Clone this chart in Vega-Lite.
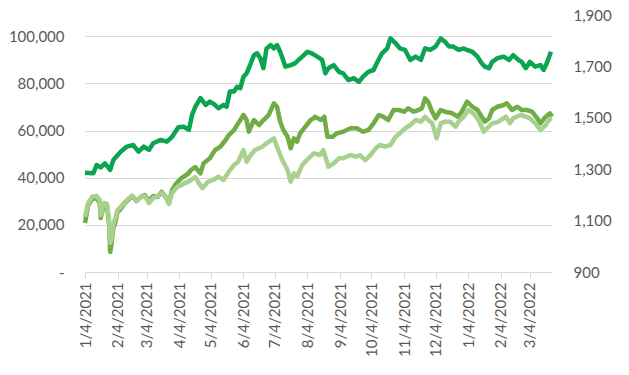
{
  "$schema": "https://vega.github.io/schema/vega-lite/v6.json",
  "width": 467,
  "height": 257,
  "autosize": "none",
  "padding": {"left": 85, "top": 15, "right": 77, "bottom": 103},
  "background": "white",
  "config": {
    "view": {"stroke": null},
    "font": "Lato",
    "axis": {"labelColor": "#595959", "labelFontSize": 15, "labelFont": "Lato", "title": null}
  },
  "datasets": {
    "left": [
      {"date":"2021-01-04","s":"medium","v":20781},{"date":"2021-01-07","s":"medium","v":28415},{"date":"2021-01-11","s":"medium","v":30959},{"date":"2021-01-15","s":"medium","v":31383},{"date":"2021-01-18","s":"medium","v":29263},{"date":"2021-01-19","s":"medium","v":22901},{"date":"2021-01-22","s":"medium","v":28415},{"date":"2021-01-25","s":"medium","v":27991},{"date":"2021-01-27","s":"medium","v":19933},{"date":"2021-01-28","s":"medium","v":8482},{"date":"2021-01-29","s":"medium","v":11027},{"date":"2021-01-31","s":"medium","v":18660},{"date":"2021-02-02","s":"medium","v":21205},{"date":"2021-02-04","s":"medium","v":25446},{"date":"2021-02-07","s":"medium","v":26718},{"date":"2021-02-11","s":"medium","v":29263},{"date":"2021-02-15","s":"medium","v":30959},{"date":"2021-02-18","s":"medium","v":32232},{"date":"2021-02-22","s":"medium","v":30111},{"date":"2021-02-26","s":"medium","v":31808},{"date":"2021-03-02","s":"medium","v":32656},{"date":"2021-03-06","s":"medium","v":30111},{"date":"2021-03-10","s":"medium","v":32232},{"date":"2021-03-14","s":"medium","v":31808},{"date":"2021-03-18","s":"medium","v":33928},{"date":"2021-03-22","s":"medium","v":31808},{"date":"2021-03-25","s":"medium","v":29263},{"date":"2021-03-28","s":"medium","v":34776},{"date":"2021-03-31","s":"medium","v":36897},{"date":"2021-04-03","s":"medium","v":38593},{"date":"2021-04-06","s":"medium","v":39865},{"date":"2021-04-09","s":"medium","v":40714},{"date":"2021-04-12","s":"medium","v":41562},{"date":"2021-04-15","s":"medium","v":43258},{"date":"2021-04-19","s":"medium","v":44531},{"date":"2021-04-23","s":"medium","v":42410},{"date":"2021-04-24","s":"medium","v":41859},{"date":"2021-04-27","s":"medium","v":46100},{"date":"2021-05-03","s":"medium","v":48220},{"date":"2021-05-08","s":"medium","v":51740},{"date":"2021-05-13","s":"medium","v":53140},{"date":"2021-05-18","s":"medium","v":55981},{"date":"2021-05-21","s":"medium","v":58102},{"date":"2021-05-26","s":"medium","v":60222},{"date":"2021-05-30","s":"medium","v":63064},{"date":"2021-06-04","s":"medium","v":66584},{"date":"2021-06-07","s":"medium","v":64463},{"date":"2021-06-09","s":"medium","v":59501},{"date":"2021-06-14","s":"medium","v":64463},{"date":"2021-06-19","s":"medium","v":62343},{"date":"2021-06-23","s":"medium","v":64463},{"date":"2021-06-28","s":"medium","v":66584},{"date":"2021-07-03","s":"medium","v":71546},{"date":"2021-07-06","s":"medium","v":70104},{"date":"2021-07-09","s":"medium","v":63742},{"date":"2021-07-12","s":"medium","v":60222},{"date":"2021-07-16","s":"medium","v":57381},{"date":"2021-07-19","s":"medium","v":52461},{"date":"2021-07-22","s":"medium","v":56702},{"date":"2021-07-25","s":"medium","v":55260},{"date":"2021-07-28","s":"medium","v":58823},{"date":"2021-08-02","s":"medium","v":61622},{"date":"2021-08-07","s":"medium","v":64463},{"date":"2021-08-10","s":"medium","v":65184},{"date":"2021-08-11","s":"medium","v":65863},{"date":"2021-08-17","s":"medium","v":64463},{"date":"2021-08-20","s":"medium","v":65863},{"date":"2021-08-23","s":"medium","v":57381},{"date":"2021-08-28","s":"medium","v":57381},{"date":"2021-09-01","s":"medium","v":58823},{"date":"2021-09-07","s":"medium","v":59501},{"date":"2021-09-14","s":"medium","v":60943},{"date":"2021-09-20","s":"medium","v":60943},{"date":"2021-09-26","s":"medium","v":59501},{"date":"2021-10-01","s":"medium","v":60222},{"date":"2021-10-06","s":"medium","v":63064},{"date":"2021-10-11","s":"medium","v":66584},{"date":"2021-10-15","s":"medium","v":65863},{"date":"2021-10-20","s":"medium","v":64463},{"date":"2021-10-25","s":"medium","v":68704},{"date":"2021-10-30","s":"medium","v":68704},{"date":"2021-11-04","s":"medium","v":67983},{"date":"2021-11-08","s":"medium","v":69425},{"date":"2021-11-13","s":"medium","v":67983},{"date":"2021-11-18","s":"medium","v":68704},{"date":"2021-11-21","s":"medium","v":69425},{"date":"2021-11-24","s":"medium","v":73666},{"date":"2021-11-27","s":"medium","v":72224},{"date":"2021-11-30","s":"medium","v":68704},{"date":"2021-12-04","s":"medium","v":65184},{"date":"2021-12-09","s":"medium","v":68704},{"date":"2021-12-13","s":"medium","v":67983},{"date":"2021-12-20","s":"medium","v":67305},{"date":"2021-12-25","s":"medium","v":65863},{"date":"2021-12-29","s":"medium","v":67983},{"date":"2022-01-03","s":"medium","v":72224},{"date":"2022-01-08","s":"medium","v":70104},{"date":"2022-01-13","s":"medium","v":68704},{"date":"2022-01-17","s":"medium","v":65863},{"date":"2022-01-20","s":"medium","v":63742},{"date":"2022-01-24","s":"medium","v":65184},{"date":"2022-01-27","s":"medium","v":68704},{"date":"2022-02-01","s":"medium","v":70104},{"date":"2022-02-07","s":"medium","v":70825},{"date":"2022-02-10","s":"medium","v":71546},{"date":"2022-02-15","s":"medium","v":68704},{"date":"2022-02-20","s":"medium","v":70104},{"date":"2022-02-24","s":"medium","v":68704},{"date":"2022-03-01","s":"medium","v":68704},{"date":"2022-03-06","s":"medium","v":67983},{"date":"2022-03-11","s":"medium","v":65184},{"date":"2022-03-14","s":"medium","v":63064},{"date":"2022-03-19","s":"medium","v":65863},{"date":"2022-03-23","s":"medium","v":67305},{"date":"2022-03-25","s":"medium","v":65863},
      {"date":"2021-01-04","s":"light","v":23453},{"date":"2021-01-07","s":"light","v":29263},{"date":"2021-01-11","s":"light","v":32020},{"date":"2021-01-15","s":"light","v":32232},{"date":"2021-01-18","s":"light","v":30535},{"date":"2021-01-19","s":"light","v":24174},{"date":"2021-01-22","s":"light","v":29263},{"date":"2021-01-25","s":"light","v":28839},{"date":"2021-01-27","s":"light","v":22053},{"date":"2021-01-28","s":"light","v":12299},{"date":"2021-01-29","s":"light","v":13571},{"date":"2021-01-31","s":"light","v":20357},{"date":"2021-02-02","s":"light","v":22901},{"date":"2021-02-04","s":"light","v":26294},{"date":"2021-02-07","s":"light","v":27567},{"date":"2021-02-11","s":"light","v":29687},{"date":"2021-02-15","s":"light","v":31383},{"date":"2021-02-18","s":"light","v":32232},{"date":"2021-02-22","s":"light","v":30111},{"date":"2021-02-26","s":"light","v":31808},{"date":"2021-03-02","s":"light","v":32232},{"date":"2021-03-06","s":"light","v":29263},{"date":"2021-03-10","s":"light","v":31383},{"date":"2021-03-14","s":"light","v":32232},{"date":"2021-03-18","s":"light","v":33504},{"date":"2021-03-22","s":"light","v":31808},{"date":"2021-03-25","s":"light","v":28839},{"date":"2021-03-28","s":"light","v":33504},{"date":"2021-03-31","s":"light","v":35200},{"date":"2021-04-03","s":"light","v":36473},{"date":"2021-04-06","s":"light","v":36897},{"date":"2021-04-09","s":"light","v":37745},{"date":"2021-04-12","s":"light","v":38169},{"date":"2021-04-15","s":"light","v":39017},{"date":"2021-04-19","s":"light","v":40290},{"date":"2021-04-23","s":"light","v":37321},{"date":"2021-04-26","s":"light","v":35624},{"date":"2021-05-01","s":"light","v":38169},{"date":"2021-05-06","s":"light","v":39017},{"date":"2021-05-11","s":"light","v":40417},{"date":"2021-05-16","s":"light","v":39017},{"date":"2021-05-21","s":"light","v":42537},{"date":"2021-05-26","s":"light","v":45379},{"date":"2021-05-30","s":"light","v":46778},{"date":"2021-06-04","s":"light","v":51740},{"date":"2021-06-07","s":"light","v":46778},{"date":"2021-06-11","s":"light","v":49620},{"date":"2021-06-15","s":"light","v":51740},{"date":"2021-06-22","s":"light","v":53140},{"date":"2021-06-26","s":"light","v":54582},{"date":"2021-07-03","s":"light","v":56702},{"date":"2021-07-06","s":"light","v":53140},{"date":"2021-07-11","s":"light","v":47499},{"date":"2021-07-16","s":"light","v":43258},{"date":"2021-07-19","s":"light","v":38296},{"date":"2021-07-22","s":"light","v":41859},{"date":"2021-07-25","s":"light","v":40417},{"date":"2021-07-30","s":"light","v":45379},{"date":"2021-08-05","s":"light","v":48220},{"date":"2021-08-10","s":"light","v":50341},{"date":"2021-08-16","s":"light","v":49620},{"date":"2021-08-19","s":"light","v":51740},{"date":"2021-08-24","s":"light","v":44658},{"date":"2021-08-29","s":"light","v":46100},{"date":"2021-09-03","s":"light","v":48220},{"date":"2021-09-07","s":"light","v":48220},{"date":"2021-09-14","s":"light","v":49620},{"date":"2021-09-19","s":"light","v":48898},{"date":"2021-09-23","s":"light","v":49620},{"date":"2021-09-28","s":"light","v":47499},{"date":"2021-10-03","s":"light","v":49620},{"date":"2021-10-08","s":"light","v":52461},{"date":"2021-10-12","s":"light","v":53861},{"date":"2021-10-17","s":"light","v":53140},{"date":"2021-10-22","s":"light","v":53861},{"date":"2021-10-27","s":"light","v":57381},{"date":"2021-10-31","s":"light","v":58823},{"date":"2021-11-05","s":"light","v":60943},{"date":"2021-11-10","s":"light","v":62343},{"date":"2021-11-15","s":"light","v":64463},{"date":"2021-11-20","s":"light","v":63742},{"date":"2021-11-24","s":"light","v":65863},{"date":"2021-11-27","s":"light","v":64463},{"date":"2021-12-01","s":"light","v":63064},{"date":"2021-12-05","s":"light","v":56702},{"date":"2021-12-09","s":"light","v":63064},{"date":"2021-12-13","s":"light","v":63742},{"date":"2021-12-18","s":"light","v":63742},{"date":"2021-12-23","s":"light","v":61622},{"date":"2021-12-26","s":"light","v":63742},{"date":"2021-12-31","s":"light","v":65863},{"date":"2022-01-04","s":"light","v":68704},{"date":"2022-01-09","s":"light","v":67305},{"date":"2022-01-14","s":"light","v":64463},{"date":"2022-01-19","s":"light","v":59501},{"date":"2022-01-22","s":"light","v":60943},{"date":"2022-01-27","s":"light","v":63064},{"date":"2022-02-02","s":"light","v":63742},{"date":"2022-02-09","s":"light","v":65863},{"date":"2022-02-13","s":"light","v":63064},{"date":"2022-02-16","s":"light","v":65184},{"date":"2022-02-23","s":"light","v":66584},{"date":"2022-02-28","s":"light","v":65863},{"date":"2022-03-04","s":"light","v":65184},{"date":"2022-03-09","s":"light","v":63064},{"date":"2022-03-14","s":"light","v":60222},{"date":"2022-03-19","s":"light","v":62343},{"date":"2022-03-23","s":"light","v":64888},{"date":"2022-03-25","s":"light","v":65184}
    ],
    "right": [
      {"date":"2021-01-04","v":1286},{"date":"2021-01-12","v":1284},{"date":"2021-01-15","v":1316},{"date":"2021-01-19","v":1307},{"date":"2021-01-23","v":1323},{"date":"2021-01-28","v":1297},{"date":"2021-01-31","v":1336},{"date":"2021-02-07","v":1368},{"date":"2021-02-13","v":1388},{"date":"2021-02-19","v":1394},{"date":"2021-02-24","v":1368},{"date":"2021-03-01","v":1388},{"date":"2021-03-06","v":1375},{"date":"2021-03-10","v":1401},{"date":"2021-03-17","v":1414},{"date":"2021-03-23","v":1407},{"date":"2021-03-28","v":1426},{"date":"2021-04-03","v":1463},{"date":"2021-04-08","v":1465},{"date":"2021-04-13","v":1453},{"date":"2021-04-16","v":1511},{"date":"2021-04-19","v":1542},{"date":"2021-04-24","v":1577},{"date":"2021-04-29","v":1550},{"date":"2021-05-03","v":1563},{"date":"2021-05-08","v":1550},{"date":"2021-05-11","v":1537},{"date":"2021-05-16","v":1550},{"date":"2021-05-19","v":1543},{"date":"2021-05-22","v":1602},{"date":"2021-05-26","v":1602},{"date":"2021-05-29","v":1621},{"date":"2021-06-01","v":1615},{"date":"2021-06-04","v":1660},{"date":"2021-06-07","v":1673},{"date":"2021-06-11","v":1712},{"date":"2021-06-14","v":1744},{"date":"2021-06-17","v":1751},{"date":"2021-06-20","v":1732},{"date":"2021-06-23","v":1693},{"date":"2021-06-26","v":1770},{"date":"2021-06-30","v":1783},{"date":"2021-07-03","v":1770},{"date":"2021-07-06","v":1783},{"date":"2021-07-09","v":1757},{"date":"2021-07-14","v":1699},{"date":"2021-07-19","v":1705},{"date":"2021-07-23","v":1712},{"date":"2021-07-30","v":1738},{"date":"2021-08-04","v":1757},{"date":"2021-08-08","v":1751},{"date":"2021-08-11","v":1744},{"date":"2021-08-18","v":1725},{"date":"2021-08-21","v":1673},{"date":"2021-08-24","v":1693},{"date":"2021-08-29","v":1705},{"date":"2021-09-03","v":1679},{"date":"2021-09-07","v":1673},{"date":"2021-09-12","v":1647},{"date":"2021-09-17","v":1654},{"date":"2021-09-22","v":1640},{"date":"2021-09-26","v":1660},{"date":"2021-10-01","v":1679},{"date":"2021-10-06","v":1686},{"date":"2021-10-09","v":1712},{"date":"2021-10-14","v":1751},{"date":"2021-10-19","v":1770},{"date":"2021-10-22","v":1809},{"date":"2021-10-27","v":1790},{"date":"2021-10-31","v":1770},{"date":"2021-11-05","v":1764},{"date":"2021-11-10","v":1725},{"date":"2021-11-15","v":1738},{"date":"2021-11-20","v":1725},{"date":"2021-11-24","v":1770},{"date":"2021-11-29","v":1764},{"date":"2021-12-04","v":1777},{"date":"2021-12-09","v":1809},{"date":"2021-12-13","v":1796},{"date":"2021-12-17","v":1777},{"date":"2021-12-21","v":1777},{"date":"2021-12-26","v":1764},{"date":"2021-12-31","v":1770},{"date":"2022-01-03","v":1764},{"date":"2022-01-08","v":1757},{"date":"2022-01-13","v":1738},{"date":"2022-01-17","v":1712},{"date":"2022-01-20","v":1699},{"date":"2022-01-24","v":1693},{"date":"2022-01-27","v":1718},{"date":"2022-02-01","v":1732},{"date":"2022-02-07","v":1738},{"date":"2022-02-12","v":1725},{"date":"2022-02-16","v":1744},{"date":"2022-02-21","v":1725},{"date":"2022-02-24","v":1718},{"date":"2022-02-28","v":1693},{"date":"2022-03-04","v":1718},{"date":"2022-03-09","v":1699},{"date":"2022-03-14","v":1705},{"date":"2022-03-17","v":1686},{"date":"2022-03-20","v":1712},{"date":"2022-03-24","v":1757}
    ]
  },
  "encoding": {
    "x": {
      "field": "date",
      "type": "temporal",
      "scale": {"type": "utc", "domain": [{"year": 2021, "month": 1, "date": 4, "utc": true}, {"year": 2022, "month": 3, "date": 25, "utc": true}]},
      "axis": {
        "values": [
          {"year": 2021, "month": 1, "date": 4, "utc": true},{"year": 2021, "month": 2, "date": 4, "utc": true},{"year": 2021, "month": 3, "date": 4, "utc": true},{"year": 2021, "month": 4, "date": 4, "utc": true},{"year": 2021, "month": 5, "date": 4, "utc": true},{"year": 2021, "month": 6, "date": 4, "utc": true},{"year": 2021, "month": 7, "date": 4, "utc": true},{"year": 2021, "month": 8, "date": 4, "utc": true},{"year": 2021, "month": 9, "date": 4, "utc": true},{"year": 2021, "month": 10, "date": 4, "utc": true},{"year": 2021, "month": 11, "date": 4, "utc": true},{"year": 2021, "month": 12, "date": 4, "utc": true},{"year": 2022, "month": 1, "date": 4, "utc": true},{"year": 2022, "month": 2, "date": 4, "utc": true},{"year": 2022, "month": 3, "date": 4, "utc": true}
        ],
        "labelExpr": "utcFormat(datum.value, '%-m/%-d/%Y')",
        "labelAngle": -90,
        "grid": false,
        "domainColor": "#d9d9d9",
        "tickColor": "#d9d9d9",
        "tickSize": 6,
        "labelPadding": 4,
        "labelFlush": false,
        "labelOverlap": false
      }
    }
  },
  "layer": [
    {
      "encoding": {
        "y": {
          "field": "v",
          "type": "quantitative",
          "scale": {"domain": [0, 109000], "nice": false, "zero": true},
          "axis": {
            "values": [0, 20000, 40000, 60000, 80000, 100000],
            "labelExpr": "datum.value == 0 ? '-\u00a0\u00a0\u00a0\u00a0\u00a0' : format(datum.value, ',')",
            "grid": true,
            "gridColor": "#d9d9d9",
            "domain": false,
            "ticks": false,
            "labelPadding": 21
          }
        }
      },
      "layer": [
        {
          "data": {"name": "left"},
          "transform": [{"filter": "datum.s == 'medium'"}],
          "mark": {"type": "line", "color": "#70AD47", "strokeWidth": 4.5, "strokeJoin": "round"}
        },
        {
          "data": {"name": "left"},
          "transform": [{"filter": "datum.s == 'light'"}],
          "mark": {"type": "line", "color": "#A9D18E", "strokeWidth": 4.5, "strokeJoin": "round"}
        }
      ]
    },
    {
      "data": {"name": "right"},
      "mark": {"type": "line", "color": "#0BA552", "strokeWidth": 4.5, "strokeJoin": "round"},
      "encoding": {
        "y": {
          "field": "v",
          "type": "quantitative",
          "scale": {"domain": [900, 1900], "nice": false, "zero": false},
          "axis": {
            "orient": "right",
            "values": [900, 1100, 1300, 1500, 1700, 1900],
            "labelExpr": "format(datum.value, ',')",
            "grid": false,
            "domain": false,
            "ticks": false,
            "labelPadding": 21
          }
        }
      }
    }
  ],
  "resolve": {"scale": {"y": "independent"}}
}
